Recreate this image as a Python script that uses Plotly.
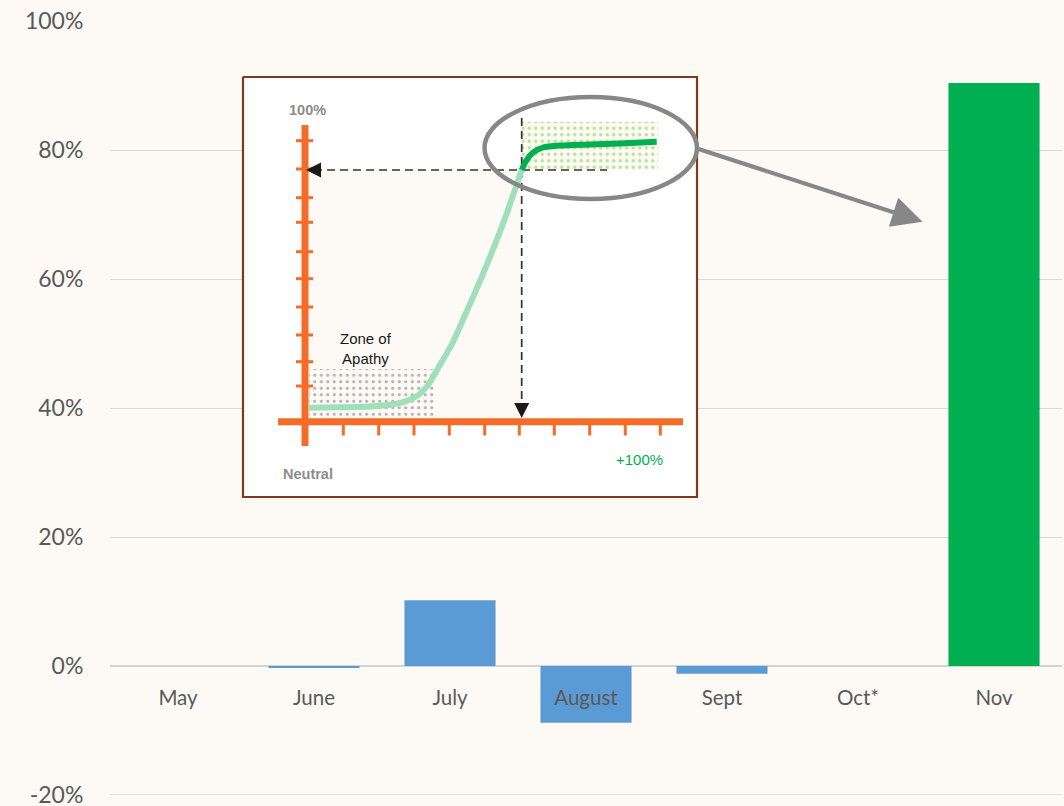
import plotly.graph_objects as go

# ---------------- main chart data ----------------
months = ["May", "June", "July", "August", "Sept", "Oct*", "Nov"]
change = [0.0, -0.003, 0.102, -0.088, -0.012, 0.0, 0.904]
bar_colors = ["#5b9bd5", "#5b9bd5", "#5b9bd5", "#5b9bd5", "#5b9bd5", "#5b9bd5", "#00b050"]
y_ticks = [-0.2, 0.0, 0.2, 0.4, 0.6, 0.8, 1.0]
y_tick_labels = ["-20%", "0%", "20%", "40%", "60%", "80%", "100%"]

# ---------------- inset illustration (drawn in a pixel-like overlay frame) ----------------
curve_rise_x = [309, 340, 370, 392, 408, 419, 428, 440, 453, 466, 480, 490, 500, 508, 516.5, 521.7]
curve_rise_y = [407.7, 407.3, 406.5, 404.5, 400.5, 394.5, 385, 365, 342, 313, 281, 257, 231.7, 210, 185, 170]
curve_top_x = [521.7, 526, 533, 543, 560, 590, 620, 656.7]
curve_top_y = [170, 161, 152.5, 147.5, 145.5, 144.5, 143.5, 141.7]
inset_ytick_pos = [140.7, 169, 197.7, 222.3, 251.7, 278.7, 307, 335, 361.7, 386]
inset_xtick_pos = [343.3, 378.7, 414, 449.3, 484.7, 519.3, 554.3, 589.7, 625.3, 660.3]

BG = "#fdfaf5"
GRID = "#d9d9d9"
TXT = "#595959"
ORANGE = "#f56c28"
FONT = "Lato"
Y_MIN, Y_MAX = -0.2, 1.0

fig = go.Figure()

fig.add_trace(go.Bar(
    x=months, y=change, marker=dict(color=bar_colors, line=dict(width=0)),
    width=0.67, showlegend=False, hoverinfo="skip",
))

X2 = dict(xaxis="x2", yaxis="y2", showlegend=False, hoverinfo="skip")

def rect(x0, x1, y0, y1):
    return [x0, x1, x1, x0, x0], [y0, y0, y1, y1, y0]

# inset box
bx, by = rect(243, 697, 77, 497)
fig.add_trace(go.Scatter(x=bx, y=by, mode="lines", fill="toself", fillcolor="#ffffff",
                         line=dict(color="#7b3a1a", width=2.2), **X2))
# cream region under the curve
cx, cy = rect(305, 521.7, 170, 421)
fig.add_trace(go.Scatter(x=cx, y=cy, mode="none", fill="toself", fillcolor=BG, **X2))
# zone of apathy dotted area
zx, zy = rect(309, 434, 369, 418)
fig.add_trace(go.Scatter(x=zx, y=zy, mode="none", fill="toself", fillcolor=BG,
                         fillpattern=dict(shape=".", fgcolor="#6e6e6e", bgcolor=BG, size=6.5, solidity=0.2),
                         **X2))
# green dotted area
gx, gy = rect(521.7, 658.3, 121.7, 169.3)
fig.add_trace(go.Scatter(x=gx, y=gy, mode="none", fill="toself", fillcolor=BG,
                         fillpattern=dict(shape=".", fgcolor="#7ccb3a", bgcolor=BG, size=6.5, solidity=0.24),
                         **X2))
# dashed guide lines
fig.add_trace(go.Scatter(x=[314, 607], y=[170, 170], mode="lines",
                         line=dict(color="#333333", width=1.7, dash="8px,5px"), **X2))
fig.add_trace(go.Scatter(x=[521.7, 521.7], y=[118, 410], mode="lines",
                         line=dict(color="#333333", width=1.7, dash="8px,5px"), **X2))
# orange axes
fig.add_trace(go.Scatter(x=[305, 305], y=[125, 446], mode="lines",
                         line=dict(color=ORANGE, width=7), **X2))
fig.add_trace(go.Scatter(x=[278, 683], y=[421.7, 421.7], mode="lines",
                         line=dict(color=ORANGE, width=7), **X2))
ytx, yty = [], []
for p in inset_ytick_pos:
    ytx += [296, 313, None]
    yty += [p, p, None]
fig.add_trace(go.Scatter(x=ytx, y=yty, mode="lines", line=dict(color=ORANGE, width=3), **X2))
xtx, xty = [], []
for p in inset_xtick_pos:
    xtx += [p, p, None]
    xty += [421, 435.5, None]
fig.add_trace(go.Scatter(x=xtx, y=xty, mode="lines", line=dict(color=ORANGE, width=3), **X2))
# curves
fig.add_trace(go.Scatter(x=curve_rise_x, y=curve_rise_y, mode="lines",
                         line=dict(color="#9fe0bb", width=6, shape="spline", smoothing=0.6), **X2))
fig.add_trace(go.Scatter(x=curve_top_x, y=curve_top_y, mode="lines",
                         line=dict(color="#00b050", width=6, shape="spline", smoothing=0.6), **X2))

annotations = [
    # arrowheads of dashed guides
    dict(x=306, y=170, ax=322, ay=170, xref="x2", yref="y2", axref="x2", ayref="y2",
         text="", showarrow=True, arrowhead=2, arrowwidth=1.5, arrowsize=2, arrowcolor="#1a1a1a"),
    dict(x=521.7, y=418, ax=521.7, ay=402, xref="x2", yref="y2", axref="x2", ayref="y2",
         text="", showarrow=True, arrowhead=2, arrowwidth=1.5, arrowsize=2, arrowcolor="#1a1a1a"),
    # big gray arrow
    dict(x=922.5, y=221.7, ax=697, ay=148.5, xref="x2", yref="y2", axref="x2", ayref="y2",
         text="", showarrow=True, arrowhead=2, arrowwidth=4.2, arrowsize=1.45, arrowcolor="#878787"),
    # texts
    dict(x=307, y=110, xref="x2", yref="y2", text="<b>100%</b>", showarrow=False,
         font=dict(family="Liberation Sans", size=14.5, color="#8c8c8c")),
    dict(x=308, y=474, xref="x2", yref="y2", text="<b>Neutral</b>", showarrow=False,
         font=dict(family="Liberation Sans", size=14.5, color="#8c8c8c")),
    dict(x=639, y=459, xref="x2", yref="y2", text="+100%", showarrow=False,
         font=dict(family="Liberation Sans", size=15, color="#00b050")),
    dict(x=366, y=348, xref="x2", yref="y2", text="Zone of<br>Apathy", showarrow=False,
         font=dict(family="Liberation Sans", size=15, color="#1a1a1a")),
]

shapes = [
    # bottom gridline (plotly omits the one on the lower plot edge)
    dict(type="line", xref="paper", yref="y", x0=0, x1=1, y0=y_ticks[0], y1=y_ticks[0],
         line=dict(color=GRID, width=1.3), layer="below"),
    dict(type="circle", xref="x2", yref="y2", x0=484.5, x1=697, y0=97, y1=199,
         line=dict(color="#878787", width=4.5), layer="above"),
]

fig.update_layout(
    width=1064, height=806, autosize=False,
    margin=dict(l=110, r=2, t=21, b=11),
    paper_bgcolor=BG, plot_bgcolor=BG,
    showlegend=False,
    bargap=0.33,
    xaxis=dict(type="category", categoryorder="array", categoryarray=months,
               anchor="free", position=(0 - Y_MIN) / (Y_MAX - Y_MIN), automargin=False,
               showgrid=False, showline=False, zeroline=False,
               ticks="outside", ticklen=13, tickcolor="rgba(0,0,0,0)",
               tickfont=dict(family=FONT, size=20.5, color=TXT)),
    yaxis=dict(range=[Y_MIN, Y_MAX], tickvals=y_ticks, ticktext=y_tick_labels, automargin=False,
               showgrid=True, gridcolor=GRID, gridwidth=1.3,
               zeroline=True, zerolinecolor="#d3d3d3", zerolinewidth=1.6,
               showline=False, ticks="outside", ticklen=21, tickcolor="rgba(0,0,0,0)",
               ticklabeloverflow="allow",
               tickfont=dict(family=FONT, size=23, color=TXT)),
    xaxis2=dict(overlaying="x", range=[110, 1062], visible=False, anchor="y2"),
    yaxis2=dict(overlaying="y", range=[795, 21], visible=False, anchor="x2"),
    annotations=annotations,
    shapes=shapes,
)

fig.write_html("out.html")
